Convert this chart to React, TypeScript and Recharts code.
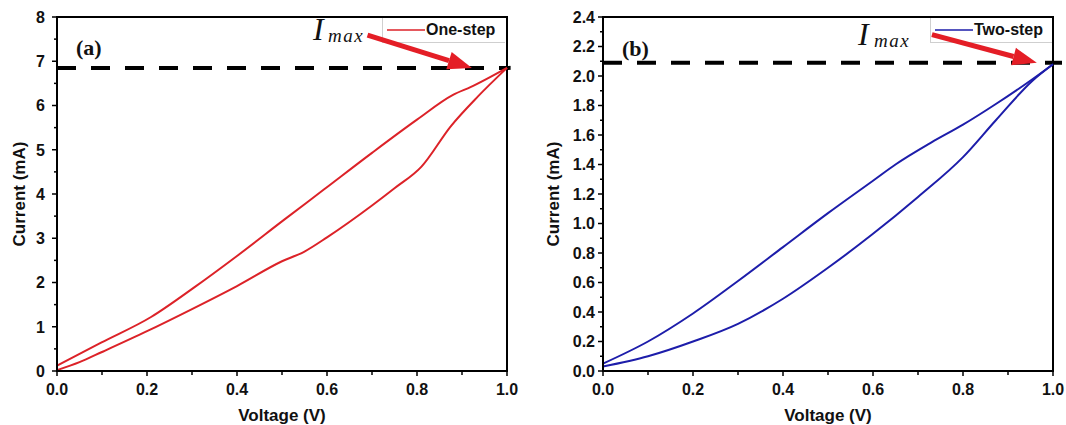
import { LineChart, Line, XAxis, YAxis, ReferenceLine, ReferenceArea, Label } from 'recharts';

const VOLT_TICKS = [0, 0.1, 0.2, 0.3, 0.4, 0.5, 0.6, 0.7, 0.8, 0.9, 1.0];
const CURRENT_TICKS_A = [0, 0.5, 1, 1.5, 2, 2.5, 3, 3.5, 4, 4.5, 5, 5.5, 6, 6.5, 7, 7.5, 8];
const CURRENT_TICKS_B = [
  0, 0.1, 0.2, 0.3, 0.4, 0.5, 0.6, 0.7, 0.8, 0.9, 1.0, 1.1, 1.2,
  1.3, 1.4, 1.5, 1.6, 1.7, 1.8, 1.9, 2.0, 2.1, 2.2, 2.3, 2.4,
];

// (a) one-step, forward sweep (lower branch)
const ONE_FWD_V = [0, 0.05, 0.1, 0.2, 0.3, 0.4, 0.5, 0.55, 0.6, 0.7, 0.75, 0.81, 0.875, 0.935, 1.0];
const ONE_FWD_I = [0.02, 0.2, 0.43, 0.9, 1.4, 1.92, 2.48, 2.7, 3.02, 3.74, 4.13, 4.62, 5.53, 6.2, 6.85];
// (a) one-step, return sweep (upper branch)
const ONE_REV_V = [0, 0.098, 0.209, 0.305, 0.4, 0.505, 0.593, 0.7, 0.8, 0.88, 0.92, 1.0];
const ONE_REV_I = [0.12, 0.64, 1.22, 1.89, 2.6, 3.42, 4.1, 4.93, 5.68, 6.24, 6.42, 6.85];

// (b) two-step
const TWO_FWD_V = [0, 0.1, 0.2, 0.3, 0.4, 0.5, 0.6, 0.7, 0.8, 0.873, 0.955, 1.0];
const TWO_FWD_I = [0.03, 0.1, 0.2, 0.32, 0.49, 0.7, 0.93, 1.18, 1.45, 1.7, 1.97, 2.08];
const TWO_REV_V = [0, 0.1, 0.2, 0.3, 0.4, 0.5, 0.6, 0.65, 0.73, 0.8, 0.873, 0.955, 1.0];
const TWO_REV_I = [0.05, 0.2, 0.39, 0.61, 0.84, 1.07, 1.29, 1.4, 1.55, 1.67, 1.81, 1.98, 2.08];

const IMAX_A = 6.85;
const IMAX_B = 2.09;

// arrow tail / tip in data units
const ARROW_A = [{ x: 0.69, y: 7.59 }, { x: 0.922, y: 6.85 }];
const ARROW_B = [{ x: 0.731, y: 2.28 }, { x: 0.964, y: 2.09 }];

const RED = '#dc2228';
const BLUE = '#1d1daa';
const SANS = '"Liberation Sans", Arial, sans-serif';
const SERIF = '"Liberation Serif", "Times New Roman", serif';

const zip = (vs: number[], is: number[]) => vs.map((v, k) => ({ v, i: is[k] }));

const TICK = 5;

const majorInt = (v: number) => Number.isInteger(v);
const majorFifth = (v: number) => Math.round(v * 10) % 2 === 0;

function makeYTick(margin: number, isMajor: (v: number) => boolean, digits: number) {
  return (props: any) => {
    const { x, y, payload } = props;
    const axisX = x + TICK + margin;
    const major = isMajor(payload.value);
    return (
      <g>
        <line x1={axisX - (major ? 5 : 3)} x2={axisX} y1={y} y2={y} stroke="#000" strokeWidth={1.5} />
        {major && (
          <text x={x} y={y} dy="0.36em" textAnchor="end" fontFamily={SANS} fontWeight="bold" fontSize={16} fill="#111">
            {payload.value.toFixed(digits)}
          </text>
        )}
      </g>
    );
  };
}

const XTick = (props: any) => {
  const { x, y, payload } = props;
  const axisY = y - TICK - 8;
  const major = majorFifth(payload.value);
  return (
    <g>
      <line x1={x} x2={x} y1={axisY} y2={axisY + (major ? 5 : 4)} stroke="#000" strokeWidth={1.5} />
      {major && (
        <text x={x} y={y} dy="0.71em" textAnchor="middle" fontFamily={SANS} fontWeight="bold" fontSize={16} fill="#111">
          {payload.value.toFixed(1)}
        </text>
      )}
    </g>
  );
};

const yLabel = (dx: number) => (props: any) => {
  const { viewBox } = props;
  const cx = viewBox.x + dx;
  const cy = viewBox.y + viewBox.height / 2;
  return (
    <text x={cx} y={cy} transform={`rotate(-90 ${cx} ${cy})`} textAnchor="middle" dominantBaseline="central"
      fontFamily={SANS} fontWeight="bold" fontSize={17} fill="#111">
      Current (mA)
    </text>
  );
};

const xLabel = (props: any) => {
  const { viewBox } = props;
  return (
    <text x={viewBox.x + viewBox.width / 2} y={viewBox.y + 50} textAnchor="middle"
      fontFamily={SANS} fontWeight="bold" fontSize={17} fill="#111">
      Voltage (V)
    </text>
  );
};

const arrowShape = (props: any) => {
  const { x1, y1, x2, y2 } = props;
  const dx = x2 - x1;
  const dy = y2 - y1;
  const len = Math.sqrt(dx * dx + dy * dy);
  const ux = dx / len;
  const uy = dy / len;
  const hl = 24;
  const hw = 9;
  const bx = x2 - ux * hl;
  const by = y2 - uy * hl;
  return (
    <g>
      <line x1={x1} y1={y1} x2={bx} y2={by} stroke="#e41e26" strokeWidth={5} />
      <polygon
        points={`${x2},${y2} ${bx - uy * hw},${by + ux * hw} ${bx + uy * hw},${by - ux * hw}`}
        fill="#e41e26"
      />
    </g>
  );
};

interface PanelProps {
  left: number;
  yWidth: number;
  rightMargin: number;
  yMax: number;
  yTicks: number[];
  tickMargin: number;
  isMajor: (v: number) => boolean;
  digits: number;
  labelDx: number;
  fwd: { v: number; i: number }[];
  rev: { v: number; i: number }[];
  color: string;
  imax: number;
  dashEnd: number;
  arrow: { x: number; y: number }[];
}

function Panel(p: PanelProps) {
  return (
    <div style={{ position: 'absolute', left: p.left, top: 0 }}>
      <LineChart width={533} height={425} margin={{ top: 17, right: p.rightMargin, bottom: 0, left: 0 }}>
        <XAxis
          type="number"
          dataKey="v"
          domain={[0, 1]}
          ticks={VOLT_TICKS}
          interval={0}
          height={54}
          tickSize={TICK}
          tickMargin={8}
          tickLine={false}
          tick={XTick}
          axisLine={{ stroke: '#000', strokeWidth: 2 }}
          label={<Label content={xLabel} />}
        />
        <YAxis
          type="number"
          dataKey="i"
          domain={[0, p.yMax]}
          ticks={p.yTicks}
          interval={0}
          width={p.yWidth}
          tickSize={TICK}
          tickMargin={p.tickMargin}
          tickLine={false}
          tick={makeYTick(p.tickMargin, p.isMajor, p.digits)}
          axisLine={{ stroke: '#000', strokeWidth: 2 }}
          label={<Label content={yLabel(p.labelDx)} />}
        />
        <ReferenceArea x1={0} x2={1} y1={0} y2={p.yMax} fill="none" stroke="#000" strokeWidth={2} />
        <ReferenceLine
          segment={[{ x: 0, y: p.imax }, { x: p.dashEnd, y: p.imax }]}
          ifOverflow="visible"
          stroke="#000"
          strokeWidth={4}
          strokeDasharray="19 15"
        />
        <Line data={p.fwd} dataKey="i" type="monotone" stroke={p.color} strokeWidth={2} dot={false} isAnimationActive={false} />
        <Line data={p.rev} dataKey="i" type="monotone" stroke={p.color} strokeWidth={2} dot={false} isAnimationActive={false} />
        <ReferenceLine segment={p.arrow} ifOverflow="visible" shape={arrowShape} />
      </LineChart>
    </div>
  );
}

function LegendBox({ left, color, text }: { left: number; color: string; text: string }) {
  return (
    <div
      style={{
        position: 'absolute',
        left,
        top: 18,
        width: 122,
        height: 24,
        borderLeft: '1px solid #cfcfcf',
        borderBottom: '1px solid #cfcfcf',
        background: '#fff',
      }}
    >
      <svg width={40} height={24} style={{ position: 'absolute', left: 4, top: 0 }}>
        <line x1={0} x2={38} y1={12} y2={12} stroke={color} strokeWidth={1.5} />
      </svg>
      <span
        style={{
          position: 'absolute',
          left: 43,
          top: 3,
          fontFamily: SANS,
          fontWeight: 'bold',
          fontSize: 16,
          lineHeight: '18px',
          color: '#111',
          whiteSpace: 'nowrap',
        }}
      >
        {text}
      </span>
    </div>
  );
}

export default function App() {
  return (
    <div style={{ position: 'absolute', left: 0, top: 0, width: 1066, height: 425, background: '#fff', overflow: 'hidden' }}>
      <LegendBox left={382} color={RED} text="One-step" />
      <LegendBox left={930} color={BLUE} text="Two-step" />
      <Panel
        left={0}
        yWidth={57}
        rightMargin={26}
        yMax={8}
        yTicks={CURRENT_TICKS_A}
        tickMargin={7}
        isMajor={majorInt}
        digits={0}
        labelDx={19}
        fwd={zip(ONE_FWD_V, ONE_FWD_I)}
        rev={zip(ONE_REV_V, ONE_REV_I)}
        color={RED}
        imax={IMAX_A}
        dashEnd={1.008}
        arrow={ARROW_A}
      />
      <Panel
        left={533}
        yWidth={70}
        rightMargin={13}
        yMax={2.4}
        yTicks={CURRENT_TICKS_B}
        tickMargin={3}
        isMajor={majorFifth}
        digits={1}
        labelDx={20}
        fwd={zip(TWO_FWD_V, TWO_FWD_I)}
        rev={zip(TWO_REV_V, TWO_REV_I)}
        color={BLUE}
        imax={IMAX_B}
        dashEnd={1.02}
        arrow={ARROW_B}
      />
      <svg width={1066} height={425} style={{ position: 'absolute', left: 0, top: 0, pointerEvents: 'none' }}>
        <text x={76} y={55} fontFamily={SERIF} fontWeight="bold" fontSize={22} fill="#111">(a)</text>
        <text x={622} y={56} fontFamily={SERIF} fontWeight="bold" fontSize={22} fill="#111">(b)</text>
        <text x={313} y={40} fontFamily={SERIF} fontStyle="italic" fontSize={32} fill="#111">I</text>
        <text x={328} y={42} fontFamily={SERIF} fontStyle="italic" fontSize={19} letterSpacing={1.5} fill="#111">max</text>
        <text x={858} y={45} fontFamily={SERIF} fontStyle="italic" fontSize={32} fill="#111">I</text>
        <text x={874} y={47} fontFamily={SERIF} fontStyle="italic" fontSize={19} letterSpacing={1.5} fill="#111">max</text>
      </svg>
    </div>
  );
}
